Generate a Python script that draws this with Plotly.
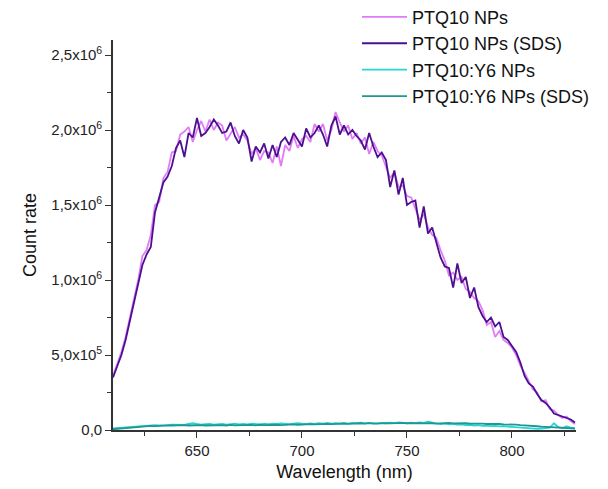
import plotly.graph_objects as go

# Wavelength grid (nm)
wavelength = list(range(610, 831, 2))

# Count rates in units of 1e6
ptq10_nps = [
    0.36, 0.44, 0.52, 0.62, 0.75, 0.88, 1.00, 1.16, 1.20, 1.30,
    1.50, 1.52, 1.68, 1.72, 1.85, 1.86, 1.97, 1.99, 2.02, 1.92,
    2.00, 2.06, 1.99, 2.07, 2.00, 2.05, 2.03, 1.93, 1.98, 2.02,
    1.95, 1.97, 1.93, 1.84, 1.88, 1.80, 1.86, 1.85, 1.78, 1.89,
    1.76, 1.90, 1.86, 1.96, 1.88, 1.94, 1.96, 1.92, 2.04, 1.99,
    2.04, 1.93, 2.00, 2.12, 2.05, 1.99, 2.03, 1.94, 1.98, 1.91,
    1.95, 1.84, 1.92, 1.86, 1.83, 1.76, 1.68, 1.72, 1.62, 1.63,
    1.56, 1.55, 1.48, 1.40, 1.44, 1.35, 1.30, 1.28, 1.20, 1.13,
    1.03, 1.05, 1.00, 1.02, 0.94, 0.92, 0.88, 0.86, 0.80, 0.70,
    0.72, 0.62, 0.66, 0.60, 0.58, 0.55, 0.50, 0.43, 0.38, 0.32,
    0.27, 0.25, 0.19, 0.20, 0.14, 0.13, 0.10, 0.08, 0.09, 0.06,
    0.04,
]

ptq10_nps_sds = [
    0.35, 0.42, 0.50, 0.60, 0.72, 0.85, 0.97, 1.10, 1.17, 1.22,
    1.45, 1.55, 1.65, 1.69, 1.76, 1.88, 1.93, 1.82, 1.98, 1.95,
    2.08, 1.96, 1.98, 2.02, 2.07, 2.03, 1.98, 1.99, 2.05, 1.96,
    1.91, 2.00, 1.95, 1.79, 1.89, 1.85, 1.91, 1.81, 1.90, 1.82,
    1.92, 1.95, 1.90, 1.98, 1.93, 1.89, 2.01, 1.95, 1.98, 2.03,
    1.97, 1.89, 2.03, 2.09, 1.97, 2.03, 1.97, 2.00, 1.96, 1.93,
    1.87, 1.98, 1.89, 1.82, 1.85, 1.80, 1.62, 1.73, 1.57, 1.68,
    1.50, 1.52, 1.53, 1.35, 1.49, 1.31, 1.35, 1.25, 1.15, 1.09,
    1.08, 0.95, 1.11, 0.98, 1.02, 0.88, 0.95, 0.82, 0.76, 0.72,
    0.75, 0.69, 0.72, 0.62, 0.60, 0.56, 0.52, 0.45, 0.36, 0.31,
    0.29, 0.24, 0.20, 0.18, 0.15, 0.11, 0.10, 0.09, 0.08, 0.07,
    0.05,
]

ptq10_y6_nps = [
    0.010, 0.012, 0.015, 0.018, 0.020, 0.022, 0.025, 0.028, 0.030, 0.027,
    0.032, 0.030, 0.034, 0.033, 0.036, 0.035, 0.038, 0.034, 0.040, 0.045,
    0.040, 0.036, 0.039, 0.041, 0.035, 0.039, 0.040, 0.036, 0.038, 0.042,
    0.037, 0.041, 0.038, 0.043, 0.040, 0.038, 0.042, 0.039, 0.043, 0.040,
    0.044, 0.041, 0.039, 0.043, 0.046, 0.042, 0.040, 0.044, 0.041, 0.045,
    0.043, 0.047, 0.042, 0.046, 0.044, 0.048, 0.043, 0.047, 0.045, 0.049,
    0.044, 0.048, 0.046, 0.043, 0.047, 0.045, 0.049, 0.046, 0.050, 0.047,
    0.045, 0.049, 0.046, 0.050, 0.048, 0.055, 0.047, 0.044, 0.040, 0.043,
    0.038, 0.041, 0.036, 0.038, 0.033, 0.035, 0.030, 0.033, 0.028, 0.030,
    0.026, 0.028, 0.024, 0.026, 0.022, 0.020, 0.018, 0.014, 0.012, 0.010,
    0.010, 0.008, 0.010, 0.012, 0.015, 0.045, 0.020, 0.012, 0.025, 0.015,
    0.010,
]

ptq10_y6_nps_sds = [
    0.005, 0.008, 0.010, 0.013, 0.015, 0.018, 0.020, 0.022, 0.025, 0.027,
    0.026, 0.029, 0.028, 0.031, 0.030, 0.032, 0.031, 0.033, 0.030, 0.032,
    0.031, 0.033, 0.030, 0.032, 0.034, 0.031, 0.033, 0.030, 0.034, 0.031,
    0.033, 0.030, 0.032, 0.034, 0.031, 0.035, 0.032, 0.034, 0.031, 0.035,
    0.033, 0.036, 0.034, 0.037, 0.035, 0.038, 0.036, 0.039, 0.037, 0.040,
    0.038, 0.041, 0.039, 0.042, 0.040, 0.043, 0.041, 0.044, 0.042, 0.045,
    0.042, 0.046, 0.043, 0.045, 0.043, 0.046, 0.044, 0.047, 0.045, 0.048,
    0.045, 0.047, 0.044, 0.046, 0.044, 0.047, 0.045, 0.043, 0.046, 0.044,
    0.047, 0.044, 0.046, 0.043, 0.045, 0.042, 0.044, 0.041, 0.043, 0.040,
    0.041, 0.038, 0.040, 0.037, 0.038, 0.035, 0.036, 0.033, 0.032, 0.030,
    0.028, 0.025, 0.022, 0.020, 0.018, 0.016, 0.014, 0.013, 0.012, 0.011,
    0.010,
]

series_names = ["PTQ10 NPs", "PTQ10 NPs (SDS)", "PTQ10:Y6 NPs", "PTQ10:Y6 NPs (SDS)"]
series_values = [ptq10_nps, ptq10_nps_sds, ptq10_y6_nps, ptq10_y6_nps_sds]
series_colors = ["#e27cf6", "#4a1090", "#2ad4d4", "#1e9893"]

y_tick_values = [0, 0.5e6, 1.0e6, 1.5e6, 2.0e6, 2.5e6]
y_tick_labels = ["0,0", "5,0x10<sup>5</sup>", "1,0x10<sup>6</sup>", "1,5x10<sup>6</sup>",
                 "2,0x10<sup>6</sup>", "2,5x10<sup>6</sup>"]
y_minor_values = [0.25e6, 0.75e6, 1.25e6, 1.75e6, 2.25e6]
x_tick_values = [650, 700, 750, 800]
x_minor_values = [625, 675, 725, 775, 825]

FONT = "Liberation Sans, Arial, sans-serif"
AXIS_COLOR = "#333333"

fig = go.Figure()
for name, vals, col in zip(series_names, series_values, series_colors):
    fig.add_trace(go.Scatter(
        x=wavelength, y=[v * 1e6 for v in vals], mode="lines", name=name,
        line=dict(color=col, width=1.8),
    ))

fig.update_layout(
    width=608, height=489,
    margin=dict(l=113, r=32, t=40, b=59, autoexpand=False),
    paper_bgcolor="white", plot_bgcolor="white",
    font=dict(family=FONT, color="#222222"),
    showlegend=True,
    legend=dict(
        xref="paper", yref="paper",
        x=0.527, y=1.106, xanchor="left", yanchor="top",
        font=dict(family=FONT, size=18, color="#111111"),
        bgcolor="rgba(0,0,0,0)", tracegroupgap=0,
        itemwidth=45,
    ),
    xaxis=dict(
        range=[610, 830.5],
        tickmode="array", tickvals=x_tick_values,
        ticks="outside", ticklen=6, tickwidth=1.3, tickcolor=AXIS_COLOR,
        minor=dict(tickmode="array", tickvals=x_minor_values, ticks="outside",
                   ticklen=4, tickwidth=1.3, tickcolor=AXIS_COLOR, showgrid=False),
        showline=True, linecolor=AXIS_COLOR, linewidth=1.6,
        showgrid=False, zeroline=False,
        tickfont=dict(family=FONT, size=15, color="#222222"),
        title=dict(text="Wavelength (nm)", font=dict(family=FONT, size=18, color="#111111"),
                   standoff=8),
    ),
    yaxis=dict(
        range=[0, 2.6e6],
        tickmode="array", tickvals=y_tick_values, ticktext=y_tick_labels,
        ticks="outside", ticklen=6, tickwidth=1.3, tickcolor=AXIS_COLOR,
        minor=dict(tickmode="array", tickvals=y_minor_values, ticks="outside",
                   ticklen=4, tickwidth=1.3, tickcolor=AXIS_COLOR, showgrid=False),
        showline=True, linecolor=AXIS_COLOR, linewidth=1.6,
        showgrid=False, zeroline=False,
        tickfont=dict(family=FONT, size=15, color="#222222"),
        title=dict(text="Count rate", font=dict(family=FONT, size=18, color="#111111"),
                   standoff=10),
    ),
)

fig.write_html("out.html")
